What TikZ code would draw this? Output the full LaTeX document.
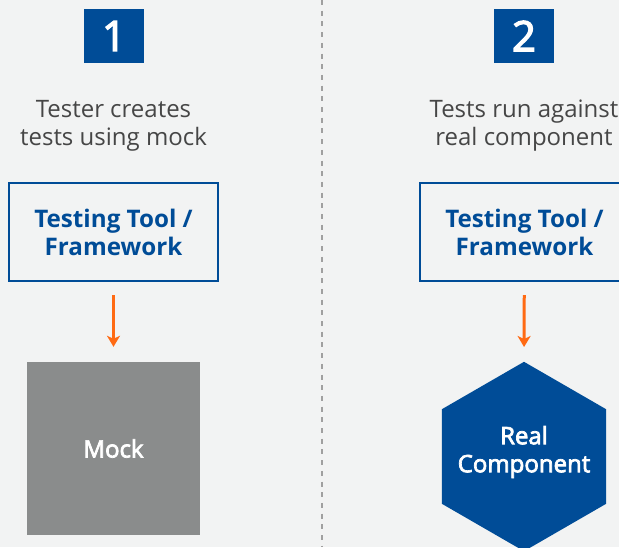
\documentclass[tikz,border=0pt]{standalone}
\usepackage{fontspec}
\setmainfont{Open Sans}
\newfontfamily\semibold{Open Sans}[FakeBold=3]
\usetikzlibrary{arrows.meta,calc}

\definecolor{bgpanel}{HTML}{F2F3F3}
\definecolor{brandblue}{HTML}{004C97}
\definecolor{accentorange}{HTML}{FF6A13}
\definecolor{mockgray}{HTML}{8A8C8C}
\definecolor{captiongray}{HTML}{464646}
\definecolor{dividergray}{HTML}{A0A0A0}

\tikzset{
  badge/.style={fill=brandblue, text=white, minimum width=60pt, minimum height=54pt,
    inner sep=0pt, font=\fontsize{42}{42}\selectfont\semibold},
  caption/.style={text=captiongray, align=center, inner sep=0pt,
    font=\fontsize{24}{28}\selectfont},
  toolbox/.style={draw=brandblue, line width=2pt, fill=bgpanel, text=brandblue,
    minimum width=209pt, minimum height=98pt, align=center, inner sep=0pt,
    font=\fontsize{24.2}{28}\selectfont\bfseries},
  flowarrow/.style={draw=accentorange, line width=3pt,
    -{Stealth[length=11pt,width=13pt,inset=3pt]}, shorten <=13pt, shorten >=15pt},
  whitelabel/.style={text=white, align=center, inner sep=0pt,
    font=\fontsize{24}{28}\selectfont\semibold},
  divider/.style={draw=dividergray, line width=2pt, dash pattern=on 5pt off 5.7pt}
}

\begin{document}
\begin{tikzpicture}[x=1pt,y=-1pt]
  % canvas
  \fill[bgpanel] (0,0) rectangle (619,547);
  \useasboundingbox (0,0) rectangle (619,547);

  % divider between the two steps
  \coordinate (divtop) at (322,0);
  \coordinate (divbot) at (322,547);
  \draw[divider] (divtop) -- (divbot);

  % step 1: testing against a mock
  \node[badge] (b1) at (114,36) {1};
  \node[caption] (c1) at (113.5,126) {Tester creates\\tests using mock};
  \node[toolbox] (t1) at (113.5,232) {Testing Tool /\\Framework};
  \node[whitelabel, fill=mockgray, minimum width=173pt, minimum height=173pt]
    (mock) at (113.5,448.5) {Mock};
  \draw[flowarrow] (t1) -- (mock);

  % step 2: testing against the real component
  \node[badge] (b2) at (524,36) {2};
  \node[caption] (c2) at (524,126) {Tests run against\\real component};
  \node[toolbox] (t2) at (524.5,232) {Testing Tool /\\Framework};
  \fill[brandblue] (524,456.5) +(90:94.7) -- +(150:94.7) -- +(210:94.7)
    -- +(270:94.7) -- +(330:94.7) -- +(30:94.7) -- cycle;
  \coordinate (hextop) at (524,362);
  \node[whitelabel] (real) at (524,452) {Real\\Component};
  \draw[flowarrow] (t2) -- (hextop);
\end{tikzpicture}
\end{document}
